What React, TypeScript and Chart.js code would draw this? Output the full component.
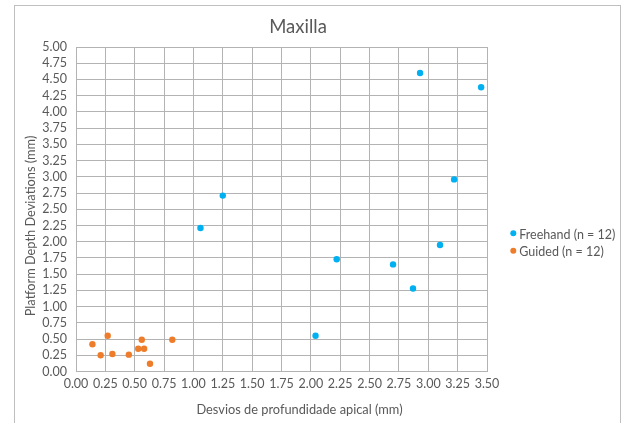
import { useEffect, useRef } from "react";
import { Chart, registerables } from "chart.js";

Chart.register(...registerables);

const chartTitle = "Maxilla";
const xAxisTitle = "Desvios de profundidade apical (mm)";
const yAxisTitle = "Platform Depth Deviations (mm)";
const seriesNames = ["Freehand (n = 12)", "Guided (n = 12)"];
const seriesColors = ["#00B0F0", "#EE7D2B"];

const freehandX = [1.06, 1.25, 2.04, 2.22, 2.7, 2.87, 2.93, 3.1, 3.22, 3.45];
const freehandY = [2.21, 2.71, 0.55, 1.73, 1.65, 1.28, 4.6, 1.95, 2.96, 4.38];
const guidedX = [0.14, 0.21, 0.27, 0.31, 0.45, 0.53, 0.56, 0.58, 0.63, 0.82];
const guidedY = [0.42, 0.25, 0.55, 0.27, 0.26, 0.35, 0.49, 0.35, 0.12, 0.49];

const xMin = 0;
const xMax = 3.5;
const yMin = 0;
const yMax = 5;
const tickStep = 0.25;

const FONT = "Lato, 'Noto Sans', sans-serif";
const TEXT = "#595959";
const GRID = "#b3b3b3";

const toPoints = (xs: number[], ys: number[]) => xs.map((x, i) => ({ x, y: ys[i] }));

const decorations = {
  id: "decorations",
  beforeDraw(chart: any) {
    const ctx = chart.ctx;
    ctx.save();
    ctx.fillStyle = "#ffffff";
    ctx.fillRect(0, 0, chart.width, chart.height);
    ctx.strokeStyle = "#bfbfbf";
    ctx.lineWidth = 1;
    ctx.strokeRect(14.5, 5.5, 606, 480);
    ctx.restore();
  },
  afterDraw(chart: any) {
    const ctx = chart.ctx;
    ctx.save();
    ctx.fillStyle = TEXT;
    ctx.textBaseline = "middle";
    ctx.textAlign = "center";
    ctx.font = `18.5px ${FONT}`;
    ctx.fillText(chartTitle, 298, 27.5);
    ctx.font = `12.8px ${FONT}`;
    ctx.fillText(xAxisTitle, 299.5, 409.5);
    ctx.save();
    ctx.translate(31, 226);
    ctx.rotate(-Math.PI / 2);
    ctx.fillText(yAxisTitle, 0, 0);
    ctx.restore();
    ctx.textAlign = "left";
    ctx.font = `12.5px ${FONT}`;
    chart.data.datasets.forEach((ds: any, i: number) => {
      const y = 233.3 + i * 17.4;
      ctx.fillStyle = ds.backgroundColor;
      ctx.beginPath();
      ctx.arc(513.3, y, 3, 0, Math.PI * 2);
      ctx.fill();
      ctx.fillStyle = TEXT;
      ctx.fillText(ds.label, 519.3, y + 1.2);
    });
    ctx.restore();
  },
};

export default function App() {
  const ref = useRef<HTMLCanvasElement | null>(null);
  useEffect(() => {
    if (!ref.current) return;
    const chart = new Chart(ref.current, {
      type: "scatter",
      data: {
        datasets: [
          {
            label: seriesNames[0],
            data: toPoints(freehandX, freehandY),
            backgroundColor: seriesColors[0],
            borderColor: seriesColors[0],
            borderWidth: 0,
            pointRadius: 3.2,
          },
          {
            label: seriesNames[1],
            data: toPoints(guidedX, guidedY),
            backgroundColor: seriesColors[1],
            borderColor: seriesColors[1],
            borderWidth: 0,
            pointRadius: 3.2,
          },
        ],
      },
      options: {
        animation: false,
        responsive: false,
        devicePixelRatio: 1,
        events: [],
        layout: { padding: { top: 47, left: 0, right: 135, bottom: 0 } },
        plugins: {
          legend: { display: false },
          title: { display: false },
          tooltip: { enabled: false },
        },
        scales: {
          x: {
            type: "linear",
            min: xMin,
            max: xMax,
            afterFit: (s: any) => {
              s.height = 51.5;
            },
            ticks: {
              stepSize: tickStep,
              autoSkip: false,
              maxRotation: 0,
              padding: 5,
              color: TEXT,
              font: { family: FONT, size: 12.5 },
              callback: (v: any) => Number(v).toFixed(2),
            },
            grid: { color: GRID, drawTicks: false },
            border: { color: GRID },
          },
          y: {
            type: "linear",
            min: yMin,
            max: yMax,
            afterFit: (s: any) => {
              s.width = 76;
            },
            ticks: {
              stepSize: tickStep,
              autoSkip: false,
              padding: 9,
              color: TEXT,
              font: { family: FONT, size: 12.5 },
              callback: (v: any) => Number(v).toFixed(2),
            },
            grid: { color: GRID, drawTicks: false },
            border: { color: GRID },
          },
        },
      },
      plugins: [decorations],
    });
    return () => chart.destroy();
  }, []);
  return (
    <canvas
      ref={ref}
      width={622}
      height={423}
      style={{ position: "fixed", left: 0, top: 0, width: 622, height: 423, display: "block" }}
    />
  );
}
